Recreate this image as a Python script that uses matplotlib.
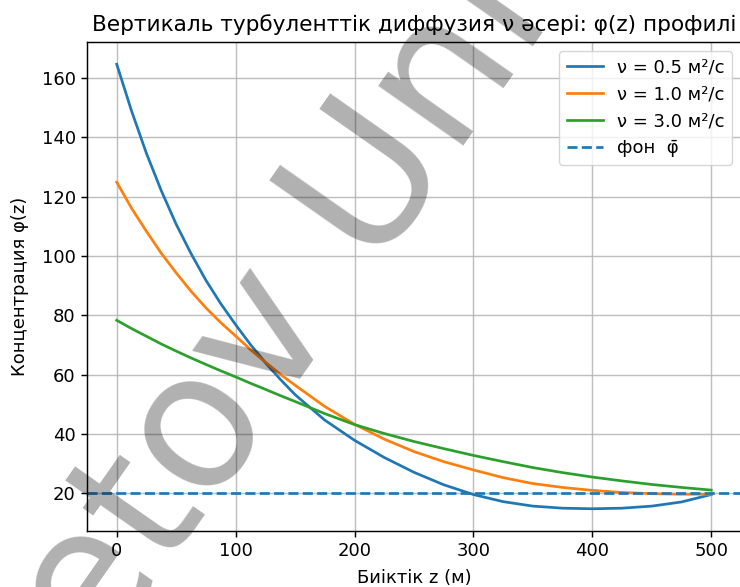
import matplotlib
matplotlib.use("Agg")
import matplotlib.pyplot as plt

# ---- data ----
z_m = [0, 12.5, 25, 37.5, 50, 62.5, 75, 87.5, 100, 112.5, 125, 137.5, 150,
       175, 200, 225, 250, 275, 300, 325, 350, 375, 400, 425, 450, 475, 500]
phi_nu05 = [164.7, 148.9, 134.6, 122.0, 110.7, 100.8, 91.8, 83.9, 76.8, 70.1,
            64.0, 58.4, 53.2, 44.6, 37.8, 32.0, 27.0, 22.8, 19.5, 17.1, 15.6,
            14.9, 14.7, 14.9, 15.6, 17.0, 19.5]
phi_nu10 = [124.9, 116.1, 108.3, 100.9, 94.3, 88.1, 82.5, 77.5, 73.0, 68.4,
            64.2, 60.1, 56.4, 49.2, 43.2, 38.2, 34.0, 30.6, 27.8, 25.2, 23.2,
            21.9, 20.9, 20.2, 19.8, 19.6, 19.6]
phi_nu30 = [78.3, 75.5, 72.9, 70.3, 67.9, 65.6, 63.4, 61.25, 59.2, 57.05,
            55.0, 52.9, 50.9, 46.8, 43.1, 40.1, 37.4, 35.0, 32.7, 30.6, 28.6,
            26.9, 25.4, 24.1, 22.9, 21.9, 21.0]
phi_background = 20.0
series_labels = ["ν = 0.5 м²/с", "ν = 1.0 м²/с", "ν = 3.0 м²/с"]
background_label = "фон  φ̄"
title = "Вертикаль турбуленттік диффузия ν әсері: φ(z) профилі"
xlabel = "Биіктік z (м)"
ylabel = "Концентрация φ(z)"
watermark = "etov Uni"

k = 1.3
plt.rcParams.update({
    "font.family": ["DejaVu Sans"],
    "font.size": 10 * k,
    "axes.titlesize": 12 * k,
    "axes.labelsize": 10 * k,
    "xtick.labelsize": 10 * k,
    "ytick.labelsize": 10 * k,
    "legend.fontsize": 10 * k,
    "lines.linewidth": 1.5 * k,
    "axes.linewidth": 0.8 * k,
    "grid.linewidth": 0.8 * k,
    "grid.alpha": 0.8,
    "xtick.major.width": 0.8 * k,
    "ytick.major.width": 0.8 * k,
    "xtick.major.size": 3.5 * k,
    "ytick.major.size": 3.5 * k,
    "axes.titlepad": 6 * k,
})

W, H = 740, 587
fig = plt.figure(figsize=(W / 100, H / 100), dpi=100)
left, right, top, bottom = 87, 741, 42, 531
ax = fig.add_axes([left / W, (H - bottom) / H, (right - left) / W, (bottom - top) / H])

for vals, lab in zip([phi_nu05, phi_nu10, phi_nu30], series_labels):
    ax.plot(z_m, vals, label=lab)
ax.axhline(phi_background, linestyle="--", color="C0", label=background_label)

ax.set_title(title)
ax.set_xlabel(xlabel, labelpad=6.5)
ax.set_ylabel(ylabel, labelpad=8.8)
ax.grid(True)
ax.legend(loc="upper right")

fig.text(283 / W, 1 - 312 / H, watermark, fontsize=137, rotation=55,
         rotation_mode="anchor", ha="center", va="center",
         color="black", alpha=0.31, zorder=100)

fig.savefig("out.png", dpi=100)
